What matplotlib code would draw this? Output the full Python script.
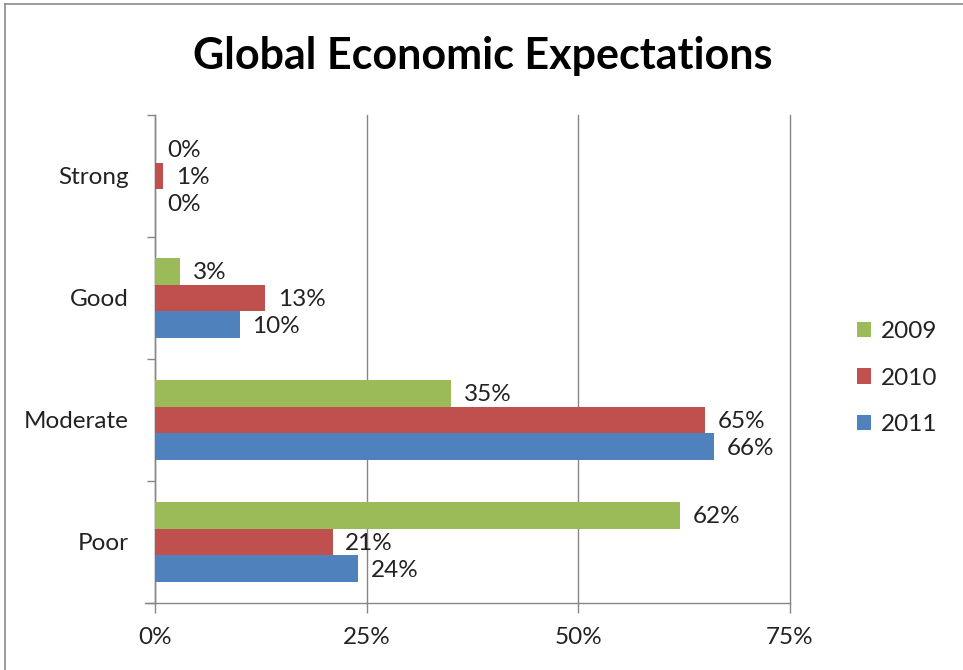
import matplotlib
matplotlib.use("Agg")
import matplotlib.pyplot as plt
from matplotlib.lines import Line2D
import numpy as np

plt.rcParams['font.family'] = ['Lato', 'DejaVu Sans']

# Data
categories = ["Strong", "Good", "Moderate", "Poor"]
years = ["2009", "2010", "2011"]
values_2009 = [0, 3, 35, 62]
values_2010 = [1, 13, 65, 21]
values_2011 = [0, 10, 66, 24]
series = [values_2009, values_2010, values_2011]
colors = ["#9BBB59", "#C0504D", "#4F81BD"]
x_ticks = [0, 25, 50, 75]
x_tick_labels = ["0%", "25%", "50%", "75%"]

TEXT = '#222222'
FS = 17.5

fig = plt.figure(figsize=(9.63, 6.70), dpi=100)
ax = fig.add_axes([155 / 963, 1 - 603 / 670, 635 / 963, 488 / 670])

n_cat = len(categories)
ypos = np.arange(n_cat)[::-1]  # Strong at top
bar_h = 0.221
offsets = [bar_h, 0.0, -bar_h]

handles = []
for vals, col, off, yr in zip(series, colors, offsets, years):
    bars = ax.barh(ypos + off, vals, height=bar_h, color=col, edgecolor='none',
                   zorder=3, label=yr)
    handles.append(bars)
    for y, v in zip(ypos + off, vals):
        ax.annotate(f"{v}%", xy=(v, y), xytext=(9, -1), textcoords='offset points',
                    ha='left', va='center', fontsize=FS, color=TEXT)

ax.set_xlim(0, 75)
ax.set_ylim(-0.5, n_cat - 0.5)

grid_col = '#868686'
ax.set_xticks(x_ticks)
ax.set_xticklabels(x_tick_labels, fontsize=FS, color=TEXT)
ax.xaxis.grid(True, color=grid_col, linewidth=1, zorder=0)
for gl in ax.get_xgridlines():
    gl.set_clip_on(False)
ax.set_yticks(ypos)
ax.set_yticklabels(categories, fontsize=FS, color=TEXT)
ax.set_yticks(np.arange(n_cat + 1) - 0.5, minor=True)

ax.tick_params(axis='y', which='major', length=0, pad=19)
ax.tick_params(axis='y', which='minor', length=6, color=grid_col, width=1, direction='out')
ax.tick_params(axis='x', which='major', length=7, color=grid_col, width=1, direction='out', pad=10)

for s in ['top', 'right']:
    ax.spines[s].set_visible(False)
ax.spines['left'].set_color(grid_col)
ax.spines['bottom'].set_color(grid_col)
ax.spines['left'].set_linewidth(1)
ax.spines['bottom'].set_linewidth(1)
ax.set_axisbelow(True)

# Short extension of the baseline to the left of the value axis
ax.add_line(Line2D([-10 / 635 * 75, 0], [-0.5, -0.5], color=grid_col, linewidth=1,
                   clip_on=False))

fig.text(483 / 963, 1 - 56 / 670, "Global Economic Expectations", ha='center',
         va='center', fontsize=31, fontweight='bold', color='black')

leg = fig.legend(handles=handles, labels=years, loc='center left',
                 bbox_to_anchor=(835 / 963, 1 - 378 / 670), frameon=False,
                 fontsize=FS, handlelength=0.6, handleheight=0.6,
                 handletextpad=0.4, labelspacing=1.05)
for t in leg.get_texts():
    t.set_color(TEXT)

# Outer chart border (left and top edges)
fig.add_artist(Line2D([5 / 963, 5 / 963], [0, 1 - 4 / 670], color='#8a8a8a', linewidth=1.2))
fig.add_artist(Line2D([5 / 963, 1], [1 - 4 / 670, 1 - 4 / 670], color='#8a8a8a', linewidth=1.2))

fig.savefig("out.png", dpi=100, facecolor='white')
